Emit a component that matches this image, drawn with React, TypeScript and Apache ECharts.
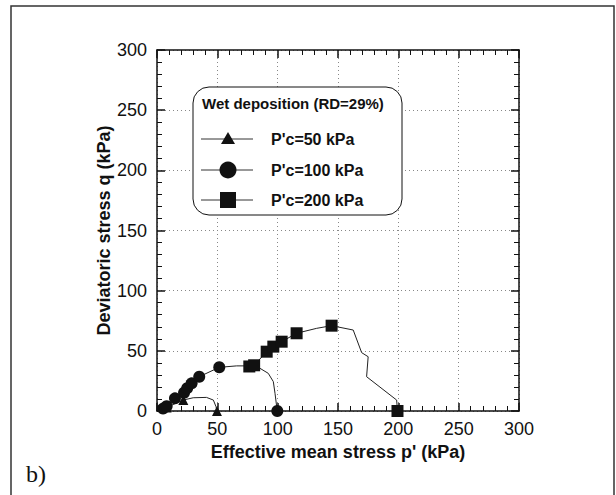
import React, { useEffect, useRef } from "react";
import * as echarts from "echarts";

// Data (p', q) in kPa
const s50: number[][] = [
  [8, 3], [21.8, 9.1], [30, 11], [41, 11.3], [46.7, 9.1], [48.9, 3.6], [49.7, 0],
];
const s50Markers = [true, true, false, false, false, false, true];

const s100: number[][] = [
  [5, 2], [8, 4], [14.9, 10.5], [22.4, 15.2], [25, 19], [28.7, 23], [35, 28.5], [51.6, 36.3],
  [66, 37.5], [80, 37.5], [85.3, 35.5], [92.2, 31.3], [96.4, 24.4], [97.8, 14.7], [99.2, 3.6], [99.7, 0],
];
const s100Markers = [true, true, true, true, true, true, true, true, false, false, false, false, false, false, false, true];

const s200: number[][] = [
  [76.5, 37], [80.5, 38], [90.9, 49.3], [96.4, 53.5], [103.3, 57.6], [115.7, 64.6], [132.3, 68.7],
  [144.7, 70.9], [162.6, 67.3], [169.6, 48.5], [175, 45.1], [173.7, 28.5], [198.6, 9.1], [199.3, 0],
];
const s200Markers = [true, true, true, true, true, true, false, true, false, false, false, false, false, true];

const xTicks = [0, 50, 100, 150, 200, 250, 300];
const yTicks = [0, 50, 100, 150, 200, 250, 300];
const legendTitle = "Wet deposition (RD=29%)";
const legendNames = ["P'c=50 kPa", "P'c=100 kPa", "P'c=200 kPa"];

const FONT = "'Liberation Sans Narrow', 'Arial Narrow', 'Liberation Sans', Arial, sans-serif";

function build(points: number[][], markers: boolean[]) {
  return points.map((p, i) => (markers[i] ? { value: p } : { value: p, symbol: "none" }));
}

export default function App() {
  const ref = useRef<HTMLDivElement>(null);
  useEffect(() => {
    if (!ref.current) return;
    const chart = echarts.init(ref.current, undefined, { renderer: "svg" });
    const axisCommon = {
      type: "value" as const,
      min: 0,
      max: 300,
      interval: 50,
      axisLine: { show: true, onZero: false, lineStyle: { color: "#111", width: 1.5 } },
      axisTick: { show: true, inside: true, length: 8, lineStyle: { color: "#111", width: 1.5 } },
      minorTick: { show: true, splitNumber: 5, length: 5, lineStyle: { color: "#111", width: 1 } },
    };
    const lineColor = "#222";
    const series = [
      { name: legendNames[0], symbol: "triangle", symbolSize: 10, data: build(s50, s50Markers) },
      { name: legendNames[1], symbol: "circle", symbolSize: 12, data: build(s100, s100Markers) },
      { name: legendNames[2], symbol: "rect", symbolSize: 12, data: build(s200, s200Markers) },
    ].map((s) => ({
      type: "line" as const,
      ...s,
      showSymbol: true,
      lineStyle: { color: lineColor, width: 1 },
      itemStyle: { color: "#111" },
      z: 3,
    }));

    // legend box geometry
    const lx = 193, ly = 87, lw = 209, lh = 128;
    const itemY = [139, 170, 200];
    const legendGraphics: any[] = [
      { type: "rect", shape: { x: lx, y: ly, width: lw, height: lh, r: 16 }, style: { fill: "#fff", stroke: "#111", lineWidth: 1 }, z: 10 },
      { type: "text", x: 202, y: 103, style: { text: legendTitle, font: `bold 15px ${FONT}`, fill: "#111", textVerticalAlign: "middle" }, z: 11 },
    ];
    itemY.forEach((y, i) => {
      legendGraphics.push({ type: "line", shape: { x1: 201, y1: y, x2: 253, y2: y }, style: { stroke: "#333", lineWidth: 1 }, z: 11 });
      if (i === 0) {
        legendGraphics.push({ type: "polygon", shape: { points: [[228, y - 7], [221, y + 5], [235, y + 5]] }, style: { fill: "#111" }, z: 12 });
      } else if (i === 1) {
        legendGraphics.push({ type: "circle", shape: { cx: 228, cy: y, r: 8.5 }, style: { fill: "#111" }, z: 12 });
      } else {
        legendGraphics.push({ type: "rect", shape: { x: 220, y: y - 8, width: 16, height: 16 }, style: { fill: "#111" }, z: 12 });
      }
      legendGraphics.push({ type: "text", x: 271, y, style: { text: legendNames[i], font: `bold 16px ${FONT}`, fill: "#111", textVerticalAlign: "middle" }, z: 11 });
    });

    chart.setOption({
      animation: false,
      backgroundColor: "#fff",
      grid: { left: 157, top: 50, width: 362, height: 361, containLabel: false },
      xAxis: [
        {
          ...axisCommon,
          position: "bottom",
          name: "Effective mean stress p' (kPa)",
          nameLocation: "middle",
          nameGap: 31,
          nameTextStyle: { fontFamily: FONT, fontWeight: "bold", fontSize: 18, color: "#111" },
          axisLabel: {
            margin: 9,
            fontFamily: FONT,
            fontSize: 18,
            color: "#111",
            formatter: (v: number) => (xTicks.includes(v) ? String(v) : ""),
          },
          splitLine: { show: true, lineStyle: { color: "#888", type: [1, 3], width: 1 } },
        },
        {
          ...axisCommon,
          position: "top",
          axisLabel: { show: false },
          splitLine: { show: false },
        },
      ],
      yAxis: [
        {
          ...axisCommon,
          position: "left",
          name: "Deviatoric stress q (kPa)",
          nameLocation: "middle",
          nameGap: 44,
          nameMoveOverlap: false,
          nameTextStyle: { fontFamily: FONT, fontWeight: "bold", fontSize: 18, color: "#111" },
          axisLabel: {
            margin: 10,
            fontFamily: FONT,
            fontSize: 18,
            color: "#111",
            formatter: (v: number) => (yTicks.includes(v) ? String(v) : ""),
          },
          splitLine: { show: true, lineStyle: { color: "#888", type: [1, 3], width: 1 } },
        },
        {
          ...axisCommon,
          position: "right",
          axisLabel: { show: false },
          splitLine: { show: false },
        },
      ],
      series,
      graphic: [
        { type: "rect", shape: { x: 11, y: 6, width: 603, height: 500 }, style: { fill: "none", stroke: "#333", lineWidth: 1.5 }, z: 0, silent: true },
        { type: "text", x: 26, y: 474, style: { text: "b)", font: "24px 'Liberation Serif', 'Times New Roman', serif", fill: "#111", textVerticalAlign: "middle" } },
        ...legendGraphics,
      ],
    });
    return () => chart.dispose();
  }, []);
  return <div ref={ref} style={{ position: "fixed", left: 0, top: 0, width: 616, height: 495 }} />;
}
